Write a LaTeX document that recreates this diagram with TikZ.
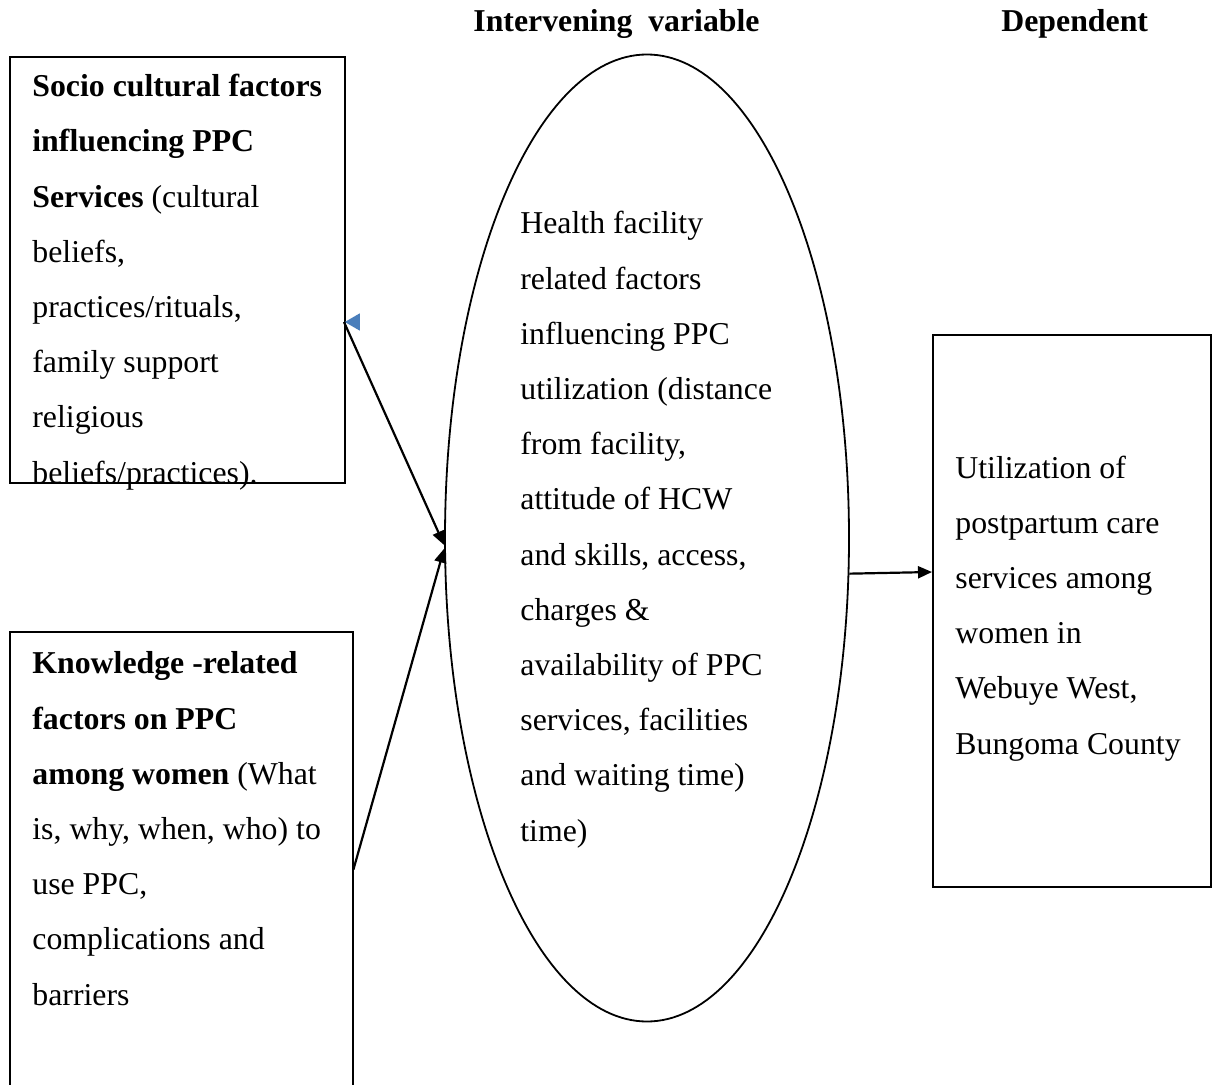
\documentclass[tikz,border=0pt]{standalone}
\usepackage{fontspec}
\setmainfont{Liberation Serif}
\usetikzlibrary{shapes.geometric,arrows.meta,fit,calc}
\tikzset{
  boxline/.style={draw=black, line width=1pt},
  btext/.style={anchor=base west, inner sep=0pt, align=left, font={\fontsize{15.9pt}{27.6pt}\selectfont}},
  head/.style={anchor=base west, inner sep=0pt, font={\fontsize{15.9pt}{18pt}\selectfont\bfseries}},
  conn/.style={line width=1.1pt, -{Triangle[length=7pt,width=6pt]}}
}
\begin{document}
\begin{tikzpicture}[x=0.5pt,y=-0.5pt]
\useasboundingbox (0,0) rectangle (1215,1085);
\clip (0,0) rectangle (1215,1085);
% headers
\node[head] (h1) at (473,32) {Intervening\ \ variable};
\node[head] (h2) at (1001,32) {Dependent};
% boxes
\node[boxline, fit={(10,57) (345,483)}, inner sep=0pt] (b1) {};
\node[fit={(10,632) (353,1095)}, inner sep=0pt] (b2) {};
\draw[line width=1pt] (b2.south west) -- (b2.north west) -- (b2.north east) -- (b2.south east);
\node[boxline, fit={(933,335) (1211,887)}, inner sep=0pt] (b3) {};
\node[draw, line width=0.9pt, ellipse, minimum width=202pt, minimum height=483.5pt, inner sep=0pt] (ell) at (647,538) {};
% texts (anchor = baseline of last line)
\node[btext] (t1) at (32,483) {\textbf{Socio cultural factors}\\\textbf{influencing PPC}\\\textbf{Services} (cultural\\beliefs,\\practices/rituals,\\family support\\religious\\beliefs/practices).};
\node[btext] (t2) at (32,1005) {\textbf{Knowledge -related}\\\textbf{factors on PPC}\\\textbf{among women} (What\\is, why, when, who) to\\use PPC,\\complications and\\barriers};
\node[btext] (t3) at (520,841) {Health facility\\related factors\\influencing PPC\\utilization (distance\\from facility,\\attitude of HCW\\and skills, access,\\charges \&\\availability of PPC\\services, facilities\\and waiting time)\\time)};
\node[btext] (t4) at (955,754) {Utilization of\\postpartum care\\services among\\women in\\Webuye West,\\Bungoma County};
% blue triangle
\node[fill={rgb,255:red,74;green,126;blue,187}, isosceles triangle, isosceles triangle apex angle=60, shape border rotate=180, minimum height=7.5pt, inner sep=0pt, anchor=apex] (bt) at (344,322) {};
% connectors
\draw[conn] (bt.apex) -- (ell.182);
\draw[conn] ($(b2.north east)+(0,238)$) -- (ell.183);
\draw[conn] (ell.-10) -- ($(b3.west)+(0,-39)$);
\end{tikzpicture}
\end{document}
